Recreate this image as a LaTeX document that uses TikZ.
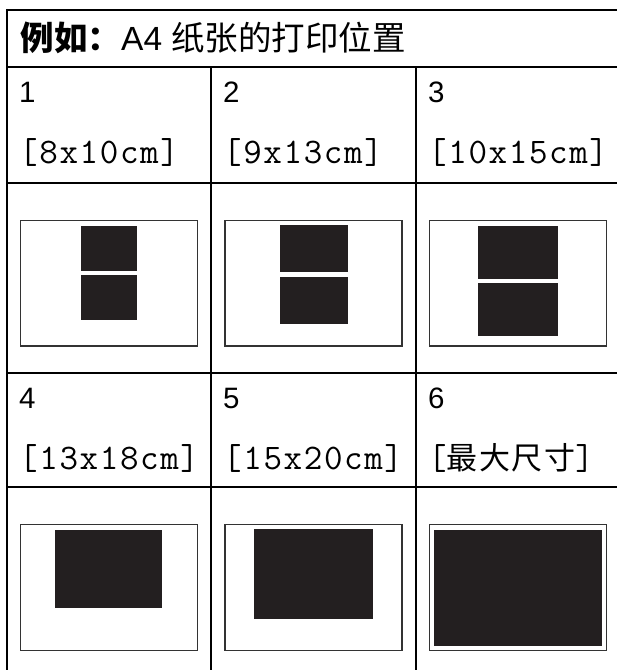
\documentclass[tikz,border=0pt]{standalone}
\usepackage{fontspec}
\setmainfont{Liberation Sans}
\newfontfamily\cjk{Noto Sans CJK SC}
\newfontfamily\sizemono[LetterSpace=4.5]{Latin Modern Mono}
\newfontfamily\cjkspaced[LetterSpace=5.0]{Noto Sans CJK SC}
\begin{document}
\begin{tikzpicture}[x=1pt,y=-1pt,
  grid/.style={line width=2.3pt, black},
  paper/.style={draw=black!80, line width=1.4pt, fill=white},
  photo/.style={fill=ink, draw=none},
  titletext/.style={anchor=base west, inner sep=0pt, font=\fontsize{33.5}{33.5}\selectfont},
  numtext/.style={anchor=base west, inner sep=0pt, font=\fontsize{29.5}{29.5}\selectfont},
  sizetext/.style={anchor=base west, inner sep=0pt, font=\sizemono\fontsize{36}{36}\selectfont}
]
\definecolor{ink}{HTML}{231F20}
\useasboundingbox (0,0) rectangle (617,670);
\fill[white] (0,0) rectangle (617,670);
% grid
\draw[grid] (6.7,10) -- (625,10);
\draw[grid] (6.7,66.7) -- (625,66.7);
\draw[grid] (6.7,182.7) -- (625,182.7);
\draw[grid] (6.7,373) -- (625,373);
\draw[grid] (6.7,486.7) -- (625,486.7);
\draw[grid] (6.7,8.85) -- (6.7,680);
\draw[grid] (210.7,66.7) -- (210.7,680);
\draw[grid] (415.7,66.7) -- (415.7,680);
% texts
\node[titletext] (title) at (20.5,50) {{\cjk\bfseries 例如：}A4 {\cjk 纸张的打印位置}};
\node[numtext] (n1) at (19,102) {1};
\node[numtext] (n2) at (223,102) {2};
\node[numtext] (n3) at (428,102) {3};
\node[numtext] (n4) at (19,408.3) {4};
\node[numtext] (n5) at (223,408.3) {5};
\node[numtext] (n6) at (428,408.3) {6};
\node[sizetext] (s1) at (19,163) {[8x10cm]};
\node[sizetext] (s2) at (223,163) {[9x13cm]};
\node[sizetext] (s3) at (428,163) {[10x15cm]};
\node[sizetext] (s4) at (19,469.3) {[13x18cm]};
\node[sizetext] (s5) at (223,469.3) {[15x20cm]};
\node[sizetext] (s6) at (428,469.3) {[{\cjkspaced\fontsize{31}{31}\selectfont 最大尺寸}]};
% papers row 2
\draw[paper] (20.3,220.7) rectangle (197.3,346);
\draw[paper] (225,220.7) rectangle (402,346);
\draw[paper] (429.7,220.7) rectangle (606.7,346);
\fill[photo] (81,226) rectangle (137,271);
\fill[photo] (81,275) rectangle (137,320);
\fill[photo] (280,225) rectangle (348,272);
\fill[photo] (280,277) rectangle (348,324);
\fill[photo] (478.2,226) rectangle (558.2,279.3);
\fill[photo] (478.2,283) rectangle (558.2,336);
% papers row 4
\draw[paper] (20.3,524.7) rectangle (197.3,650.7);
\draw[paper] (225,524.7) rectangle (402,650.7);
\draw[paper] (429.7,524.7) rectangle (606.7,650.7);
\fill[photo] (55,530) rectangle (162,608);
\fill[photo] (254,529) rectangle (373,619);
\fill[photo] (434,530) rectangle (602,645.7);
\end{tikzpicture}
\end{document}
